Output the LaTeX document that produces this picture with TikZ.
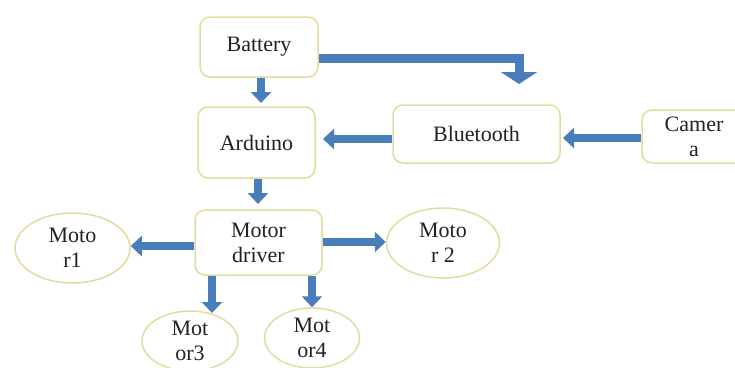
\documentclass[tikz,border=0pt]{standalone}
\usepackage{fontspec}
\setmainfont{Liberation Serif}
\usetikzlibrary{arrows.meta,shapes.geometric}
\definecolor{edge}{HTML}{E3DB9E}
\definecolor{arrblue}{HTML}{4A7EBB}
\definecolor{txt}{HTML}{222222}
\begin{document}
\begin{tikzpicture}[x=1pt,y=-1pt,
  box/.style={draw=edge,line width=1.5pt,fill=white,rounded corners=10pt,minimum width=#1,inner sep=0pt,text=txt,font=\fontsize{22}{25}\selectfont,align=center},
  oval/.style={draw=edge,line width=1.5pt,fill=white,ellipse,inner sep=0pt,text=txt,font=\fontsize{22}{25}\selectfont,align=center},
  arr/.style={draw=arrblue,line width=8pt,-{Triangle[width=20pt,length=11pt]}},
  bigarr/.style={draw=arrblue,line width=9pt,line join=miter,-{Triangle[width=36pt,length=12pt]}}]
\useasboundingbox (0,0) rectangle (735,367);
\node[box=118pt,minimum height=60pt] (bat) at (259,47) {Battery};
\node[box=117pt,minimum height=71pt] (ard) at (256.5,142.5) {Arduino};
\node[box=167pt,minimum height=58pt] (bt) at (476.5,134) {Bluetooth};
\node[box=104pt,minimum height=53pt] (cam) at (694,136.5) {Camer\\a};
\node[box=127pt,minimum height=65pt] (md) at (258.5,242.5) {Motor\\driver};
\node[oval,minimum width=115pt,minimum height=70pt] (m1) at (72.5,248) {Moto\\r1};
\node[oval,minimum width=113pt,minimum height=70pt] (m2) at (443,243) {Moto\\r 2};
\node[oval,minimum width=96pt,minimum height=60pt] (m3) at (190,341) {Mot\\or3};
\node[oval,minimum width=95pt,minimum height=60pt] (m4) at (312,338) {Mot\\or4};
% arrows
\draw[arr] (bat.south -| 261,0) -- (261,103);
\draw[bigarr] (bat.east |- 0,58) -- (519,58) -- (519,84);
\draw[arr] (bt.west |- 0,139) -- (323,139);
\draw[arr] (cam.west |- 0,138) -- (563,138);
\draw[arr] (ard.south -| 258,0) -- (258,204);
\draw[arr] (md.west |- 0,246) -- (m1.east |- 0,246);
\draw[arr] (md.east |- 0,242) -- (m2.west |- 0,242);
\draw[arr] (md.south -| 212,0) -- (212,313);
\draw[arr] (md.south -| 312,0) -- (m4.north);
\end{tikzpicture}
\end{document}
